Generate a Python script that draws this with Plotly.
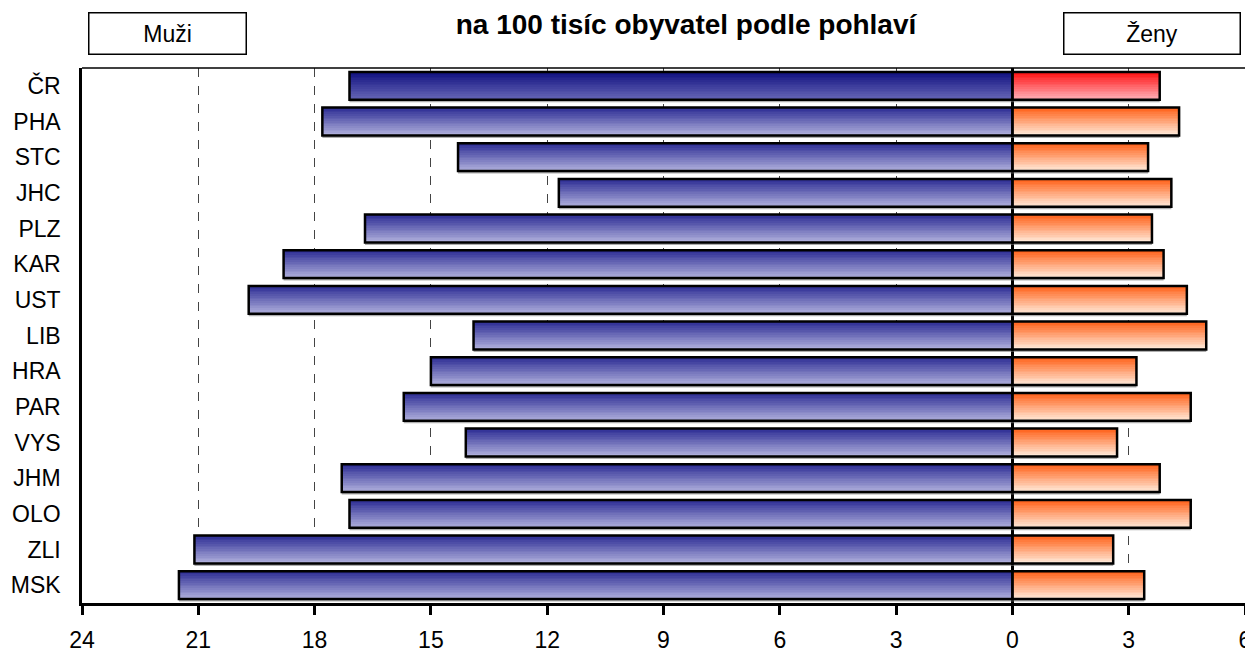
import plotly.graph_objects as go

regions = ["ČR", "PHA", "STC", "JHC", "PLZ", "KAR", "UST", "LIB", "HRA", "PAR", "VYS", "JHM", "OLO", "ZLI", "MSK"]
men = [17.1, 17.8, 14.3, 11.7, 16.7, 18.8, 19.7, 13.9, 15.0, 15.7, 14.1, 17.3, 17.1, 21.1, 21.5]
women = [3.8, 4.3, 3.5, 4.1, 3.6, 3.9, 4.5, 5.0, 3.2, 4.6, 2.7, 3.8, 4.6, 2.6, 3.4]
tick_vals = [-24, -21, -18, -15, -12, -9, -6, -3, 0, 3, 6]
tick_text = ["24", "21", "18", "15", "12", "9", "6", "3", "0", "3", "6"]
title_text = "na 100 tisíc obyvatel podle pohlaví"
legend_men = "Muži"
legend_women = "Ženy"

FONT = "Liberation Sans, Arial"
W = 0.78
N = 16

# page body has an 8px margin: figure occupies page x 8..1253, y 8..657
OFF = 8
FIG_W, FIG_H = 1253 - OFF, 657 - OFF
PL, PR, PT, PB = 82, 1245, 68, 603  # plot area in page pixels


def lerp(c1, c2, t):
    return "rgb(%d,%d,%d)" % tuple(round(a + (b - a) * t) for a, b in zip(c1, c2))


men_cr = ((16, 16, 128), (100, 100, 180))
men_reg = ((44, 44, 148), (172, 172, 218))
wom_cr = ((255, 16, 16), (255, 172, 180))
wom_reg = ((255, 96, 24), (255, 230, 212))

fig = go.Figure()

men_neg = [-v for v in men]

# shadow
for vals in (men_neg, women):
    fig.add_trace(go.Bar(y=regions, x=vals, orientation="h", width=W, offset=-W / 2 + 0.07,
                         marker=dict(color="rgba(120,120,120,0.6)", line=dict(width=0)),
                         hoverinfo="skip", showlegend=False))

for i in range(N):
    t = i / (N - 1)
    off = -W / 2 + i * W / N
    mc = [lerp(*(men_cr if k == 0 else men_reg), t) for k in range(len(regions))]
    wc = [lerp(*(wom_cr if k == 0 else wom_reg), t) for k in range(len(regions))]
    fig.add_trace(go.Bar(y=regions, x=men_neg, orientation="h", width=W / N + 0.002, offset=off,
                         marker=dict(color=mc, line=dict(width=0)), hoverinfo="skip", showlegend=False))
    fig.add_trace(go.Bar(y=regions, x=women, orientation="h", width=W / N + 0.002, offset=off,
                         marker=dict(color=wc, line=dict(width=0)), hoverinfo="skip", showlegend=False))

for vals in (men_neg, women):
    fig.add_trace(go.Bar(y=regions, x=vals, orientation="h", width=W, offset=-W / 2,
                         marker=dict(color="rgba(0,0,0,0)", line=dict(color="black", width=2.5)),
                         showlegend=False))

pw, ph = PR - PL, PB - PT


def px_x(x):
    return (x - PL) / pw


def px_y(y):
    return (PB - y) / ph


fig.update_layout(
    width=FIG_W, height=FIG_H,
    margin=dict(l=PL - OFF, r=1253 - PR, t=PT - OFF, b=657 - PB, autoexpand=False),
    paper_bgcolor="white", plot_bgcolor="white",
    barmode="overlay",
    font=dict(family=FONT, size=23, color="black"),
    title=dict(text="<b>" + title_text + "</b>", x=(686 - OFF) / FIG_W, xanchor="center",
               y=1 - (24 - OFF) / FIG_H, yanchor="middle", yref="container",
               font=dict(family=FONT, size=28, color="black")),
    xaxis=dict(range=[-24, 6], tickvals=tick_vals, ticktext=tick_text, automargin=False,
               showgrid=True, gridcolor="#444", griddash="dash", gridwidth=1,
               zeroline=True, zerolinecolor="black", zerolinewidth=3,
               showline=True, linecolor="black", linewidth=3,
               ticks="outside", ticklen=9, tickwidth=2.5, tickcolor="black",
               ticklabelstandoff=5, tickfont=dict(family=FONT, size=23)),
    yaxis=dict(categoryorder="array", categoryarray=regions, autorange="reversed", automargin=False,
               showgrid=False, showline=True, mirror=True, linecolor="black", linewidth=2.5,
               ticks="", ticklabelstandoff=14, tickfont=dict(family=FONT, size=23)),
    shapes=[dict(type="line", xref="paper", yref="paper", x0=0, x1=1, y0=1, y1=1,
                 line=dict(color="black", width=1.5))],
    annotations=[
        dict(text=legend_men, xref="paper", yref="paper", x=px_x(167), y=px_y(33),
             showarrow=False, width=152, height=36, borderpad=2, bordercolor="black", borderwidth=1.5,
             bgcolor="white", font=dict(family=FONT, size=23), xanchor="center", yanchor="middle"),
        dict(text=legend_women, xref="paper", yref="paper", x=px_x(1151.5), y=px_y(33),
             showarrow=False, width=171, height=36, borderpad=2, bordercolor="black", borderwidth=1.5,
             bgcolor="white", font=dict(family=FONT, size=23), xanchor="center", yanchor="middle"),
    ],
)

fig.write_html("out.html")
